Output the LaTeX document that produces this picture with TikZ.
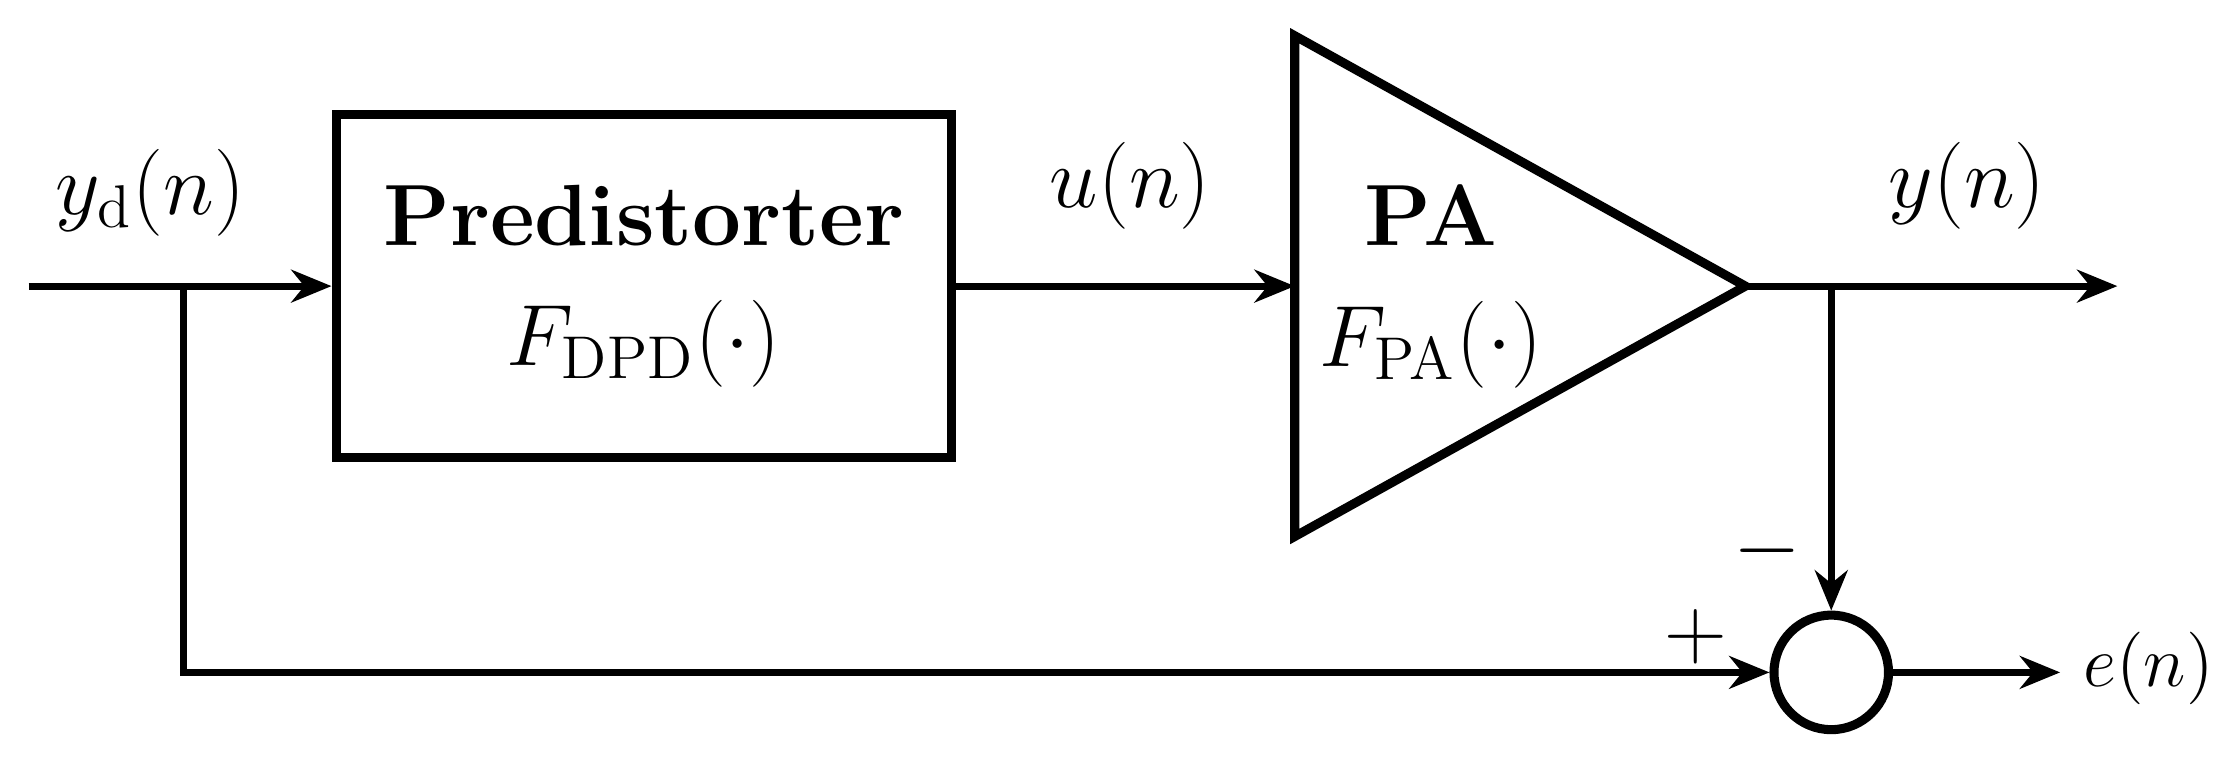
\documentclass[tikz,border=0pt]{standalone}
\usetikzlibrary{arrows.meta}
\begin{document}
\begin{tikzpicture}[x=0.01cm,y=-0.01cm,line width=1.4pt,
  >={Stealth[length=8pt,width=6.5pt]},
  lbl/.style={font=\LARGE}]
\useasboundingbox (0,0) rectangle (1565,541.7);
\node[draw,minimum width=4.3cm,minimum height=2.4cm,line width=1.8pt,font=\LARGE,align=center] (pd) at (450,200) {\textbf{Predistorter}\\[2pt]$F_{\mathrm{DPD}}(\cdot)$};
\draw[line width=1.8pt] (905,25) coordinate (pa1) -- (1220,200) coordinate (patip) -- (905,375) -- cycle;
\node[font=\LARGE,align=center] (pa) at (1000,200) {\textbf{PA}\\[2pt]$F_{\mathrm{PA}}(\cdot)$};
\coordinate (pain) at (905,200);
\coordinate (in) at (20,200);
\coordinate (br1) at (128,200);
\coordinate (br2) at (1280,200);
\coordinate (out) at (1480,200);
\node[draw,circle,minimum size=0.8cm,line width=1.8pt,inner sep=0pt] (sum) at (1280,470) {};
\coordinate (eout) at (1440,470);
\draw[->] (in) -- (pd.west);
\draw[->] (pd.east) -- (pain);
\draw[->] (patip) -- (out);
\draw[->] (br2) -- (sum.north);
\draw[->] (br1) |- (sum.west);
\draw[->] (sum.east) -- (eout);
\node[lbl] (l1) at (105,135) {$y_{\mathrm{d}}(n)$};
\node[lbl] (l2) at (790,130) {$u(n)$};
\node[lbl] (l3) at (1375,130) {$y(n)$};
\node[font=\Large,anchor=west] (l4) at (1442,467) {$e(n)$};
\node[lbl] (l5) at (1235,385) {$-$};
\node[lbl] (l6) at (1185,445) {$+$};
\end{tikzpicture}
\end{document}
